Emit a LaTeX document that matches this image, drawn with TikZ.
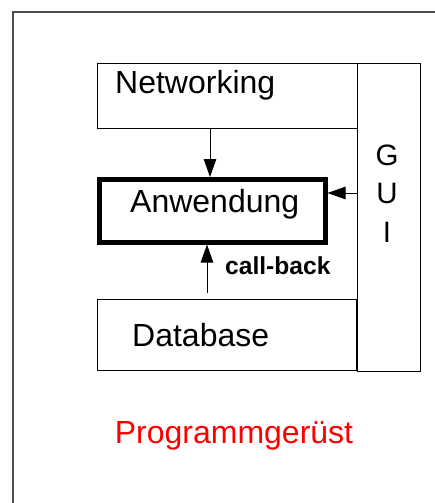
\documentclass[tikz,border=0pt]{standalone}
\usepackage{fontspec}
\setmainfont{Liberation Sans}
\usetikzlibrary{arrows.meta}
\begin{document}
\begin{tikzpicture}[x=1pt,y=-1pt,
  box/.style={draw=black,line width=1pt,rectangle,inner sep=0pt,outer sep=0pt},
  lbl/.style={inner sep=0pt,anchor=base west,font=\fontsize{32}{38}\selectfont},
  guil/.style={inner sep=0pt,anchor=base,font=\fontsize{29.5}{35}\selectfont},
  arr/.style={line width=1pt,-{Triangle[length=18pt,width=12.5pt]}}]
\useasboundingbox (0,0) rectangle (435,503);
% outer frame (only top and left visible)
\draw[line width=1.5pt,black!70] (440,12) -- (13,12) -- (13,510);
% boxes
\node[box,minimum width=260pt,minimum height=64pt,anchor=north west] (net) at (97,64) {};
\node[box,minimum width=63pt,minimum height=307pt,anchor=north west] (gui) at (357,64) {};
\node[box,minimum width=259pt,minimum height=71pt,anchor=north west] (db) at (97,299) {};
\node[draw=black,line width=4.5pt,rectangle,inner sep=0pt,minimum width=226pt,minimum height=63pt,anchor=north west] (app) at (97,177) {};
% texts
\node[lbl] (nettext) at (115,93) {Networking};
\node[lbl] (apptext) at (130,212) {Anwendung};
\node[lbl] (dbtext) at (132,346) {Database};
\node[guil] (g1) at (387,165) {G};
\node[guil] (g2) at (387,203) {U};
\node[guil] (g3) at (387,242) {I};
\node[inner sep=0pt,anchor=base west,font=\bfseries\fontsize{24.6}{29}\selectfont] (cb) at (225,274) {call-back};
\node[inner sep=0pt,anchor=base,text=red,font=\fontsize{32}{38}\selectfont] (prog) at (234,443) {Programmgerüst};
% arrows
\draw[arr] ([xshift=-17pt]net.south) -- ([xshift=-17pt]net.south |- app.north);
\draw[arr] (gui.west |- 0,193) -- (app.east |- 0,193);
\draw[arr,shorten <=6pt] ([xshift=-19.5pt]db.north) -- ([xshift=-19.5pt]db.north |- app.south);
\end{tikzpicture}
\end{document}
